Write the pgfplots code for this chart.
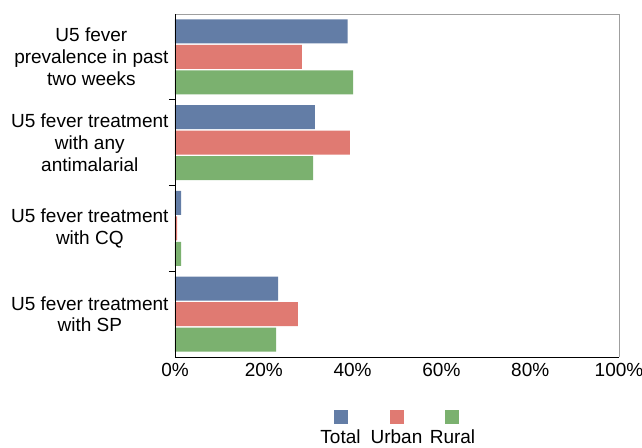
\documentclass[border=0pt]{standalone}
\usepackage{fontspec}
\setmainfont{Liberation Sans}
\usepackage{pgfplots}
\pgfplotsset{compat=1.18}
\definecolor{cTotal}{HTML}{637DA6}
\definecolor{cUrban}{HTML}{E07A72}
\definecolor{cRural}{HTML}{7BB16F}
\newcommand{\cf}{\fontsize{19bp}{21.7bp}\selectfont}
\begin{document}
\cf
\begin{tikzpicture}
\useasboundingbox (-175bp,-91bp) rectangle (467bp,357bp);
\begin{axis}[
  at={(0,0)}, anchor=south west,
  scale only axis, width=444bp, height=343bp,
  xbar, bar width=24bp,
  xmin=0, xmax=100, ymin=-0.5, ymax=3.5, y dir=reverse,
  xtick={0,20,40,60,80,100},
  xticklabels={0\%,20\%,40\%,60\%,80\%,100\%},
  ytick={0,1,2,3},
  yticklabels={{U5 fever\\prevalence in past\\two weeks},{U5 fever treatment\\with any\\antimalarial},{U5 fever treatment\\with CQ},{U5 fever treatment\\with SP}},
  yticklabel style={align=center, font=\cf},
  xticklabel style={font=\cf},
  major tick length=0pt,
  minor ytick={0.5,1.5,2.5},
  minor xtick={},
  minor tick length=6bp,
  tick align=outside,
  ytick pos=left, xtick pos=bottom,
  minor tick style={black, line width=0.8bp},
  axis line style={draw=none},
  legend columns=3,
  legend style={draw=none, fill=none, inner sep=0pt, outer sep=0pt,
    at={(axis description cs:0.5,-0.175)}, anchor=center,
    nodes={inner sep=0pt, outer sep=0pt},
    /tikz/every even column/.append style={column sep=41bp},
    /tikz/every odd column/.append style={column sep=0pt}},
  after end axis/.code={
    \draw[gray!75, line width=0.8bp] (axis description cs:0,1) -- (axis description cs:1,1) -- (axis description cs:1,0);
    \draw[black, line width=0.9bp] (axis description cs:0,1) -- (axis description cs:0,0) -- (axis description cs:1,0);
  },
]
\addplot[fill=cTotal, draw=none, bar shift=25.5bp,
  legend image code/.code={\fill[cTotal] (0bp,-7bp) rectangle (14bp,7bp);
    \node[overlay, anchor=north, inner sep=0pt, font=\cf] at (7bp,-12.5bp) {Total};}]
  coordinates {(38.9,0) (31.5,1) (1.4,2) (23.2,3)};
\addlegendentry{\hbox{}}
\addplot[fill=cUrban, draw=none, bar shift=0bp,
  legend image code/.code={\fill[cUrban] (0bp,-7bp) rectangle (14bp,7bp);
    \node[overlay, anchor=north, inner sep=0pt, font=\cf] at (7bp,-12.5bp) {Urban};}]
  coordinates {(28.6,0) (39.4,1) (0.5,2) (27.7,3)};
\addlegendentry{\hbox{}}
\addplot[fill=cRural, draw=none, bar shift=-25.5bp,
  legend image code/.code={\fill[cRural] (0bp,-7bp) rectangle (14bp,7bp);
    \node[overlay, anchor=north, inner sep=0pt, font=\cf] at (7bp,-12.5bp) {Rural};}]
  coordinates {(40.1,0) (31.1,1) (1.4,2) (22.8,3)};
\addlegendentry{\hbox{}}
\end{axis}
\end{tikzpicture}
\end{document}
